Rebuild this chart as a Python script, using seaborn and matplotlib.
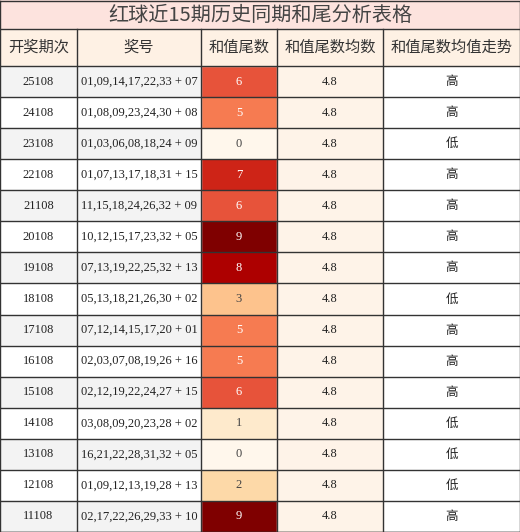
import matplotlib
matplotlib.use("Agg")
import matplotlib.pyplot as plt
import seaborn as sns
import numpy as np
from matplotlib.patches import Rectangle

title = "红球近15期历史同期和尾分析表格"
headers = ["开奖期次", "奖号", "和值尾数", "和值尾数均数", "和值尾数均值走势"]
periods = ["25108","24108","23108","22108","21108","20108","19108","18108","17108","16108","15108","14108","13108","12108","11108"]
numbers = ["01,09,14,17,22,33 + 07","01,08,09,23,24,30 + 08","01,03,06,08,18,24 + 09","01,07,13,17,18,31 + 15",
           "11,15,18,24,26,32 + 09","10,12,15,17,23,32 + 05","07,13,19,22,25,32 + 13","05,13,18,21,26,30 + 02",
           "07,12,14,15,17,20 + 01","02,03,07,08,19,26 + 16","02,12,19,22,24,27 + 15","03,08,09,20,23,28 + 02",
           "16,21,22,28,31,32 + 05","01,09,12,13,19,28 + 13","02,17,22,26,29,33 + 10"]
tails = [6,5,0,7,6,9,8,3,5,5,6,1,0,2,9]
means = [4.8]*15
trend = ["高","高","低","高","高","高","高","低","高","高","高","低","低","低","高"]

W, H = 520, 532
cols = [0, 77, 201, 277, 383, 520]
title_h, head_h = 29, 66
n = len(periods)
row_h = (H - head_h) / n
cjk = ["Noto Sans CJK SC", "DejaVu Sans"]
serif = ["Liberation Serif", "Noto Sans CJK SC"]

fig = plt.figure(figsize=(W/100, H/100), dpi=100)
ax = fig.add_axes([0, 0, 1, 1])
ax.set_xlim(0, W); ax.set_ylim(H, 0); ax.axis("off")

hax = fig.add_axes([cols[2]/W, 0, (cols[3]-cols[2])/W, (H-head_h)/H])
sns.heatmap(np.array(tails).reshape(-1, 1), ax=hax, cmap="OrRd", vmin=0, vmax=9,
            cbar=False, annot=True, fmt="d", xticklabels=False, yticklabels=False,
            annot_kws={"fontsize": 9, "family": serif})
for t, v in zip(hax.texts, tails):
    t.set_color("white" if v >= 4 else "#444444")

ax.add_patch(Rectangle((0, 0), W, title_h, color="#fde3de", zorder=0))
ax.text(W/2, title_h/2 + 1, title, ha="center", va="center", fontsize=14.5, color="#444444", family=cjk)
ax.add_patch(Rectangle((0, title_h), W, head_h-title_h, color="#fef1e4", zorder=0))
for i, h in enumerate(headers):
    ax.text((cols[i]+cols[i+1])/2, (title_h+head_h)/2, h, ha="center", va="center",
            fontsize=11, color="#333333", family=cjk)
for r in range(n):
    y0 = head_h + r*row_h
    yc = y0 + row_h/2
    ax.add_patch(Rectangle((0, y0), cols[2], row_h, color="#f3f3f3" if r % 2 == 0 else "white", zorder=0))
    ax.add_patch(Rectangle((cols[3], y0), cols[4]-cols[3], row_h, color="#fef3e8", zorder=0))
    ax.text((cols[0]+cols[1])/2, yc, periods[r], ha="center", va="center", fontsize=9, family=serif, color="#222222")
    ax.text((cols[1]+cols[2])/2, yc, numbers[r], ha="center", va="center", fontsize=9, family=serif, color="#222222")
    ax.text((cols[3]+cols[4])/2, yc, f"{means[r]:.1f}", ha="center", va="center", fontsize=9, family=serif, color="#222222")
    ax.text((cols[4]+cols[5])/2, yc, trend[r], ha="center", va="center", fontsize=9, family=cjk, color="#222222")

lw = 1.0
ax.plot([0, W], [title_h, title_h], color="#333333", lw=lw, zorder=5)
for r in range(n+1):
    y = head_h + r*row_h
    ax.plot([0, W], [y, y], color="#333333", lw=lw, zorder=5)
for x in cols[1:-1]:
    ax.plot([x, x], [title_h, H], color="#333333", lw=lw, zorder=5)
ax.plot([0, W, W, 0, 0], [0.5, 0.5, H-0.5, H-0.5, 0.5], color="#333333", lw=lw, zorder=5)
hax.set_zorder(1); ax.set_zorder(2); ax.patch.set_visible(False)
fig.savefig("out.png", dpi=100)
